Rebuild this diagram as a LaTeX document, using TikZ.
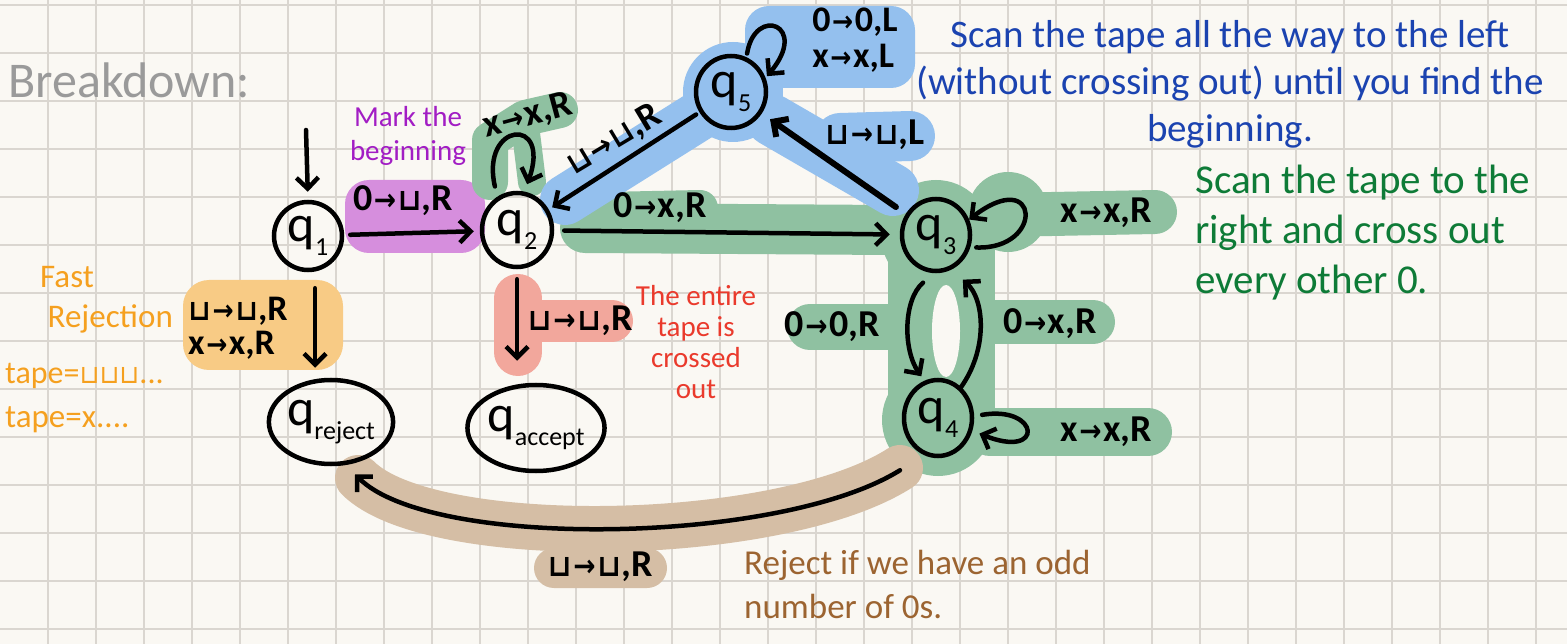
\documentclass[tikz,border=0pt]{standalone}
\usepackage{fontspec}
\setmainfont{Carlito}
\newfontfamily\symfont{DejaVu Sans}
\usetikzlibrary{arrows.meta,shapes.geometric}
\definecolor{paper}{HTML}{FAF8F3}
\definecolor{gridc}{HTML}{DAD6D0}
\definecolor{hpurple}{HTML}{D68EDD}
\definecolor{hgreen}{HTML}{8FC1A1}
\definecolor{hblue}{HTML}{94C0EE}
\definecolor{horange}{HTML}{F8CB85}
\definecolor{hred}{HTML}{F2A79C}
\definecolor{htan}{HTML}{D5BEA5}
\definecolor{tpurple}{HTML}{A21DC4}
\definecolor{tblue}{HTML}{1B43B0}
\definecolor{tgreen}{HTML}{0E7B37}
\definecolor{torange}{HTML}{F5A01F}
\definecolor{tred}{HTML}{EA3A2C}
\definecolor{tbrown}{HTML}{9C6431}
\definecolor{tgray}{HTML}{9A9A9A}
\newcommand\fsz[1]{\fontsize{#1}{#1}\selectfont}
\newcommand\tArr{\kern1.5pt{\symfont\scalebox{0.7}[0.8]{→}}\kern1.5pt}
\newcommand\tBlk{{\symfont\scalebox{0.8}{⊔}}}
\newcommand\qsub[1]{\raisebox{-0.28em}{\fsz{26}#1}}
\begin{document}
\begin{tikzpicture}[x=1pt,y=-1pt,
  every node/.style={inner sep=0pt},
  state/.style={draw, line width=4.5pt, ellipse, inner sep=0pt, font=\fsz{52}},
  tr/.style={draw, line width=4.5pt, line cap=round, -{Straight Barb[length=11pt,width=22pt]}},
  lab/.style={font=\fsz{38}\bfseries},
  hl/.style={line cap=round, line join=round},
  note/.style={align=center}
]
\useasboundingbox (0,0) rectangle (1567,644);
\fill[paper] (0,0) rectangle (1567,644);
\foreach \i in {1,...,32} \draw[gridc, line width=1.4pt] (48*\i,0) -- (48*\i,644);
\foreach \j in {0,...,13} \draw[gridc, line width=1.4pt] (0,5+48*\j) -- (1567,5+48*\j);

% ---------- highlights ----------
\fill[hpurple, rounded corners=24pt] (345,180) rectangle (485,253);
\fill[horange, rounded corners=26pt] (183,280) rectangle (343,370);
\draw[hred, hl, line width=48pt] (518,298) -- (518,352);
\draw[hred, hl, line width=42pt] (540,321) -- (612,321);
% green q2
\draw[hgreen, hl, line width=36pt] (490,182) -- (490,140) -- (525,118) -- (560,110);
\draw[hgreen, hl, line width=28pt] (525,125) -- (532,182);
\draw[hgreen, hl, line width=50pt] (585,228) -- (890,230);
\draw[hgreen, hl, line width=36pt] (605,210) -- (700,208);
% green q3/q4
\fill[hgreen] (936,235) circle (55pt);
\fill[hgreen] (938,420) circle (56pt);
\fill[hgreen] (888,240) rectangle (995,420);
\fill[hgreen] (1008,212) circle (40pt);
\draw[hgreen, hl, line width=44pt] (1000,215) -- (1155,212);
\draw[hgreen, hl, line width=44pt] (990,322) -- (1093,322);
\draw[hgreen, hl, line width=48pt] (990,432) -- (1148,432);
\draw[hgreen, hl, line width=46pt] (810,327) -- (900,327);
\fill[paper] (946,331) ellipse (14pt and 46pt);
% blue
\draw[hblue, hl, line width=50pt] (565,200) -- (705,112);
\fill[hblue] (733,92) circle (50pt);
\fill[hblue, rounded corners=24pt] (745,6) rectangle (915,88);
\draw[hblue, hl, line width=52pt] (772,120) -- (893,190);
\draw[hblue, hl, line width=50pt] (840,138) -- (910,136);
% tan
\draw[htan, hl, line width=46pt] (900,468) .. controls (780,545) and (430,550) .. (358,478);
\fill[htan, rounded corners=20pt] (534,548) rectangle (667,588);

% ---------- states ----------
\node[state, minimum width=68pt, minimum height=68pt] (q1) at (308,236) {q\qsub{1}};
\node[state, minimum width=70pt, minimum height=74pt] (q2) at (517,230) {q\qsub{2}};
\node[state, minimum width=68pt, minimum height=72pt] (q3) at (936,235) {q\qsub{3}};
\node[state, minimum width=68pt, minimum height=76pt] (q4) at (938,418) {q\qsub{4}};
\node[state, minimum width=70pt, minimum height=72pt] (q5) at (731,92) {q\qsub{5}};
\node[state, minimum width=120pt, minimum height=84pt] (qrej) at (331,422) {q\qsub{reject}};
\node[state, minimum width=134pt, minimum height=86pt] (qacc) at (536,428) {q\qsub{accept}};

% ---------- transitions ----------
\coordinate (init) at (306,130);
\draw[tr, shorten >=8pt] (init) -- (q1.north);
\draw[tr, shorten <=6pt, shorten >=6pt] (q1) -- (q2);
\draw[tr, shorten <=10pt, shorten >=10pt] (q2) -- (q3);
\draw[tr, shorten <=4pt, shorten >=4pt] (q5) -- (q2);
\draw[tr, line width=6pt, shorten <=12pt, shorten >=10pt] (q3) -- (q5);
\draw[tr, shorten <=16pt, shorten >=10pt] ([xshift=7pt]q1.south) -- ([xshift=7pt]q1.south |- qrej.north);
\draw[tr, shorten <=10pt, shorten >=22pt] (q2.south) -- (q2.south |- qacc.north);
\draw[tr] ([yshift=-12pt]q3.250) .. controls (903,300) and (903,350) .. ([yshift=6pt]q4.115);
\draw[tr] ([yshift=-2pt]q4.55) .. controls (988,350) and (985,300) .. ([shift={(8pt,-12pt)}]q3.300);
\draw[tr] ([xshift=6pt]q3.-20) .. controls (1045,250) and (1040,165) .. (q3.25);
\draw[tr] ([xshift=8pt]q4.5) .. controls (1040,405) and (1045,460) .. ([xshift=8pt]q4.-25);
\draw[tr] ([yshift=12pt]q2.125) .. controls (480,122) and (552,115) .. ([yshift=8pt]q2.75);
\draw[tr] ([yshift=4pt]q5.65) .. controls (755,5) and (810,25) .. ([xshift=2pt]q5.25);
\draw[tr] ([shift={(-38pt,-12pt)}]q4.south) .. controls (780,545) and (430,550) .. ([shift={(24pt,-8pt)}]qrej.south);

% ---------- labels ----------
\node[lab] (l12) at (403,201) {0\tArr\tBlk,R};
\node[lab, rotate=15] (l22) at (528,116) {x\tArr x,R};
\node[lab] (l23) at (660,208) {0\tArr x,R};
\node[lab, rotate=31] (l52) at (614,140) {\tBlk\tArr\tBlk,R};
\node[lab, align=left, font=\fsz{36}\bfseries\linespread{1.0}\selectfont] (l55) at (855,40) {0\tArr 0,L\\x\tArr x,L};
\node[lab] (l35) at (875,135) {\tBlk\tArr\tBlk,L};
\node[lab] (l33) at (1106,213) {x\tArr x,R};
\node[lab] (l44) at (1106,432) {x\tArr x,R};
\node[lab] (l43) at (1050,324) {0\tArr x,R};
\node[lab] (l34) at (832,327) {0\tArr 0,R};
\node[lab, align=left, font=\fsz{36}\bfseries\linespread{0.95}\selectfont] (l1r) at (238,328) {\tBlk\tArr\tBlk,R\\x\tArr x,R};
\node[lab] (l2a) at (580,321) {\tBlk\tArr\tBlk,R};
\node[lab] (l4r) at (600,567) {\tBlk\tArr\tBlk,R};

% ---------- notes ----------
\node[text=tgray, font=\fsz{50}, anchor=west] (title) at (8,80) {Breakdown:};
\node[text=tpurple, note, font=\fontsize{29}{34}\selectfont] (npur) at (408,136) {Mark the\\beginning};
\node[text=tblue, note, font=\fontsize{39}{47}\selectfont] (nblue) at (1230,84) {Scan the tape all the way to the left\\(without crossing out) until you find the\\beginning.};
\node[text=tgreen, align=left, font=\fontsize{41}{50}\selectfont, anchor=north west] (ngreen) at (1195,165) {Scan the tape to the\\right and cross out\\every other 0.};
\node[text=tred, note, font=\fontsize{29}{31}\selectfont] (nred) at (696,342) {The entire\\tape is\\crossed\\out};
\node[text=torange, align=left, font=\fontsize{33}{40}\selectfont, anchor=north west] (norange) at (40,266) {Fast\\\ Rejection};
\node[text=torange, anchor=west, font=\fsz{32}] (nt1) at (5,376) {tape=\tBlk\tBlk\tBlk...};
\node[text=torange, anchor=west, font=\fsz{33}] (nt2) at (5,420) {tape=x....};
\node[text=tbrown, align=left, font=\fontsize{35}{44}\selectfont, anchor=north west] (nbrown) at (744,550) {Reject if we have an odd\\number of 0s.};
\end{tikzpicture}
\end{document}
